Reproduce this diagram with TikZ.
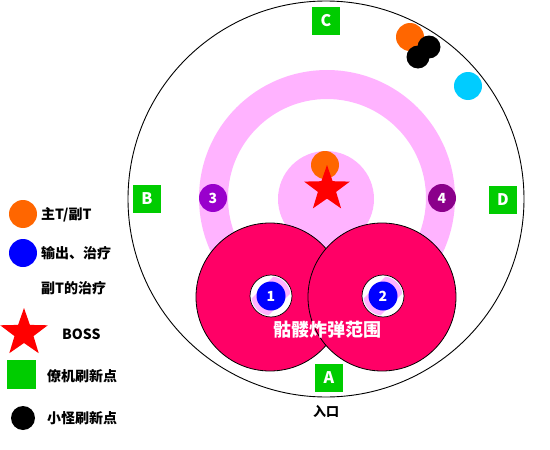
\documentclass[tikz,border=0pt]{standalone}
\usepackage{fontspec}
\setmainfont{Noto Sans CJK SC}
\definecolor{bomb}{HTML}{FF0066}
\definecolor{ringpink}{HTML}{FFB3FF}
\definecolor{tankorange}{HTML}{FF6600}
\definecolor{sqgreen}{HTML}{00CC00}
\definecolor{addcyan}{HTML}{00CCFF}
\definecolor{dpsblue}{HTML}{0000FF}
\definecolor{violA}{HTML}{9900CC}
\definecolor{violB}{HTML}{8B008B}
\begin{document}
\begin{tikzpicture}[x=1pt,y=-1pt]
\tikzset{
  dot/.style={circle, inner sep=0pt, minimum size=#1},
  sqbox/.style={fill=sqgreen, minimum size=28pt, inner sep=0pt, text=white, font=\bfseries\fontsize{16}{16}\selectfont},
  numdot/.style={circle, inner sep=0pt, minimum size=28pt, text=white, font=\bfseries\fontsize{14}{14}\selectfont},
  lbl/.style={anchor=west, inner sep=0pt, font=\bfseries\fontsize{14}{16}\selectfont}
}
\useasboundingbox (0,0) rectangle (550,450);
% arena
\node[circle, draw, line width=0.9pt, minimum size=396pt, inner sep=0pt] (arena) at (326,199) {};
% pink ring
\draw[ringpink, line width=29pt] (327,198) circle[radius=113.5pt];
\node[dot=96pt, fill=ringpink] (core) at (326,199) {};
\node[dot=28pt, fill=tankorange] (ctank) at (325,165) {};
\coordinate (bossc) at (327,189);
\fill[red] (327,165) -- (332.6,181.2) -- (349.8,181.6) -- (336.1,191.9) -- (341.1,208.4) -- (327,198.6) -- (312.9,208.4) -- (317.9,191.9) -- (304.2,181.6) -- (321.4,181.2) -- cycle;
\node[numdot, fill=violA] (p3) at (213,198) {3};
\node[numdot, fill=violB] (p4) at (442,198) {4};
% bomb ranges
\node[dot=148pt, fill=bomb, draw=black, line width=0.8pt] (bombL) at (270,297) {};
\node[dot=148pt, fill=bomb, draw=black, line width=0.8pt] (bombR) at (382,297) {};
% positions 1,2
\foreach \n/\px in {1/271,2/383}{
  \node[dot=42pt, fill=white, draw=black, line width=0.7pt] (w\n) at (\px,296) {};
  \begin{scope}
    \clip (\px,296) circle[radius=19.5pt];
    \fill[ringpink, rotate around={45:(\px,296)}] (\px-30,284) rectangle (\px+30,308);
  \end{scope}
  \node[numdot, minimum size=29pt, fill=dpsblue] (p\n) at (\px,296) {\n};
}
\node[text=white, font=\bfseries\fontsize{18}{18}\selectfont, inner sep=0pt] (bombtxt) at (327,330) {骷髅炸弹范围};
% spawn squares
\node[sqbox] (sqA) at (329,378) {A};
\node[sqbox] (sqB) at (147,199) {B};
\node[sqbox] (sqC) at (326,21) {C};
\node[sqbox] (sqD) at (503,200) {D};
\node[font=\bfseries\fontsize{13}{13}\selectfont, inner sep=0pt] (entry) at (326,411) {入口};
% top-right group
\node[dot=28pt, fill=tankorange] (otank) at (410,37) {};
\node[dot=23pt, fill=black] (add1) at (429,47) {};
\node[dot=23pt, fill=black] (add2) at (418,57) {};
\node[dot=28pt, fill=addcyan] (cyan) at (468,86) {};
% legend
\node[dot=28pt, fill=tankorange] (lg1) at (23,214) {};
\node[lbl] (lt1) at (41,215) {主T/副T};
\node[dot=28pt, fill=dpsblue] (lg2) at (23,253) {};
\node[lbl] (lt2) at (41,253) {输出、治疗};
\node[lbl] (lt3) at (41,288) {副T的治疗};
\fill[red] (24,308) -- (29.9,324.9) -- (47.8,325.3) -- (33.5,336.1) -- (38.7,353.2) -- (24,343) -- (9.3,353.2) -- (14.5,336.1) -- (0.2,325.3) -- (18.1,324.9) -- cycle;
\coordinate (lg3) at (24,333);
\node[lbl] (lt4) at (62,334) {BOSS};
\node[fill=sqgreen, minimum size=29pt, inner sep=0pt] (lg4) at (21.5,374.5) {};
\node[lbl] (lt5) at (47,376) {僚机刷新点};
\node[dot=24pt, fill=black] (lg5) at (23,418) {};
\node[lbl] (lt6) at (47,418) {小怪刷新点};
\end{tikzpicture}
\end{document}
